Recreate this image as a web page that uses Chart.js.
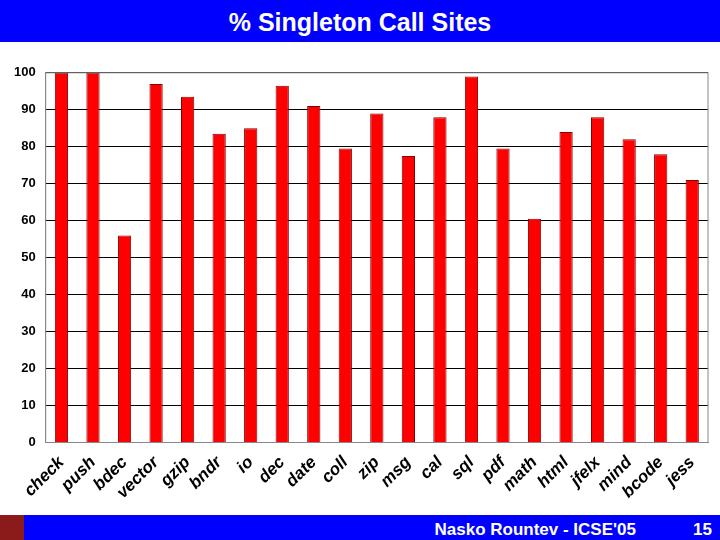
<!DOCTYPE html>
<html>
<head>
<meta charset="utf-8">
<script src="https://cdn.jsdelivr.net/npm/chart.js@4"></script>
<style>
  body { margin: 0; width: 720px; height: 540px; background: #fff; position: relative; overflow: hidden; font-family: Arial, "Liberation Sans", sans-serif; }
  #title { position: absolute; left: 0; top: 0; width: 720px; height: 42px; background: #0000ff; color: #fff; font-weight: bold; font-size: 25px; text-align: center; line-height: 44px; }
  #foot { position: absolute; left: 0; top: 515px; width: 720px; height: 25px; background: #0000ff; color: #fff; font-weight: bold; font-size: 17px; line-height: 29px; }
  #foot .who { position: absolute; right: 84px; }
  #foot .num { position: absolute; right: 8px; }
  #logo { position: absolute; left: 0; top: 0; width: 24px; height: 25px; background: #8b1a1a; }
  #wrap { position: absolute; left: 0; top: 55px; width: 720px; height: 450px; }
</style>
</head>
<body>
<div id="title">% Singleton Call Sites</div>
<div id="wrap"><canvas id="c"></canvas></div>
<div id="foot"><div id="logo"></div><span class="who">Nasko Rountev - ICSE'05</span><span class="num">15</span></div>
<script>
// Програми та частка одноразових місць виклику
const programs = ["check", "push", "bdec", "vector", "gzip", "bndr", "io", "dec", "date", "coll", "zip",
                  "msg", "cal", "sql", "pdf", "math", "html", "jfelx", "mind", "bcode", "jess"];
const singletonPct = [100, 100, 56, 97, 93.5, 83.5, 85, 96.5, 91, 79.5, 89,
                      77.5, 88, 99, 79.5, 60.5, 84, 88, 82, 78, 71];
const yTicks = [0, 10, 20, 30, 40, 50, 60, 70, 80, 90, 100];

new Chart(document.getElementById("c"), {
    type: "bar",
    data: {
        labels: programs,
        datasets: [{
            data: singletonPct,
            backgroundColor: "#ff0000",
            borderColor: "#800000",
            borderWidth: 1,
            barPercentage: 0.42,
            categoryPercentage: 1
        }]
    },
    options: {
        responsive: true,
        maintainAspectRatio: false,
        animation: false,
        layout: { padding: { left: 4, right: 12, top: 11, bottom: 0 } },
        plugins: { legend: { display: false }, tooltip: { enabled: false } },
        scales: {
            y: {
                min: 0, max: 100,
                afterBuildTicks: axis => { axis.ticks = yTicks.map(v => ({ value: v })); },
                ticks: { color: "#000", font: { family: "Arial", weight: "bold", size: 13 }, padding: 10 },
                grid: { color: "#000", drawTicks: false },
                border: { color: "#888" }
            },
            x: {
                ticks: { color: "#000", maxRotation: 45, minRotation: 45, autoSkip: false, padding: 2,
                         font: { family: "Arial", weight: "bold", style: "italic", size: 17 } },
                grid: { display: false },
                border: { color: "#888" }
            }
        }
    },
    plugins: [{
        // Сіра рамка навколо області графіка
        id: "frame",
        afterDraw(chart) {
            const a = chart.chartArea, ctx = chart.ctx;
            ctx.save();
            ctx.strokeStyle = "#888";
            ctx.lineWidth = 1;
            ctx.strokeRect(a.left, a.top, a.right - a.left, a.bottom - a.top);
            ctx.restore();
        }
    }]
});
</script>
</body>
</html>
